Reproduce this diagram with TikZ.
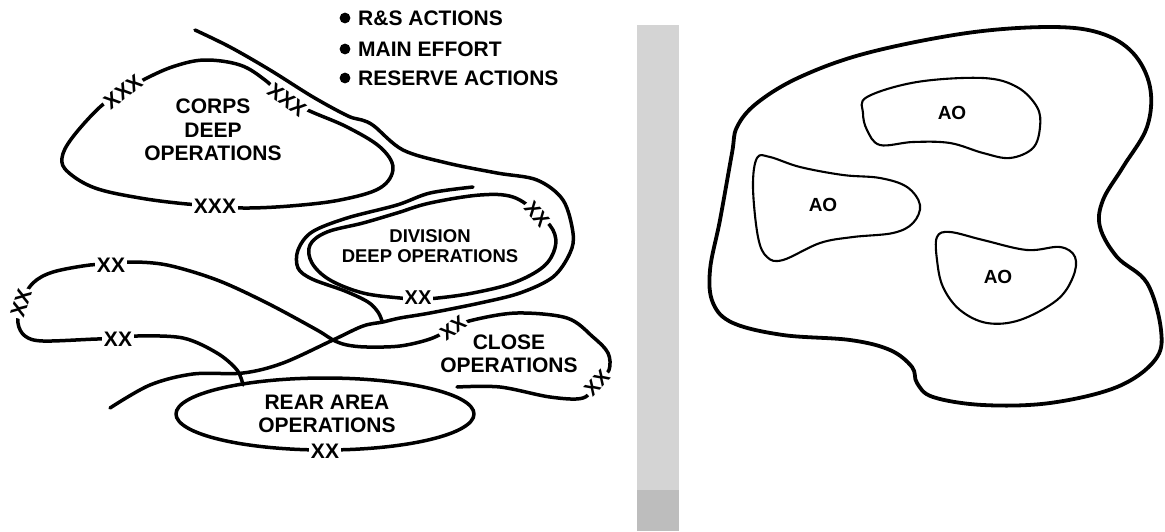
\documentclass[tikz,border=0pt]{standalone}
\usepackage{fontspec}
\setmainfont{Liberation Sans}
\begin{document}
\begin{tikzpicture}[x=1pt,y=-1pt,line join=round,line cap=round,
  ln/.style={line width=3.5pt},
  rim/.style={line width=3.8pt},
  aoline/.style={line width=2.1pt},
  tag/.style={fill=white,inner sep=1.5pt,font=\bfseries\fontsize{21}{24}\selectfont},
  dtag/.style={fill=white,inner sep=1.5pt,font=\bfseries\fontsize{20}{22}\selectfont},
  area/.style={align=center,inner sep=0pt,font=\bfseries\fontsize{21}{23.5}\selectfont},
  darea/.style={align=center,inner sep=0pt,font=\bfseries\fontsize{18.5}{19.5}\selectfont},
  legend/.style={anchor=west,inner sep=0pt,font=\bfseries\fontsize{21}{24}\selectfont},
  aotext/.style={inner sep=0pt,font=\bfseries\fontsize{19}{21}\selectfont}]
\useasboundingbox (0,0) rectangle (1165,531);

% grey divider bar
\fill[black!17] (637,25) rectangle (679,531);
\fill[black!26] (637,490) rectangle (679,531);

% legend
\foreach \yy/\tx/\nm in {18/R\&S ACTIONS/la,49/MAIN EFFORT/lb,78/RESERVE ACTIONS/lc}{
  \fill (345,\yy) circle (5.4);
  \node[legend] (\nm) at (358,\yy) {\tx};
}

% corps deep operations loop
\draw[ln] plot[smooth cycle,tension=0.6] coordinates {
 (62,158) (72,138) (100,107) (123,92) (147,78) (175,66) (205,60) (240,65)
 (265,80) (287,100) (312,112) (347,127) (380,147) (393,168) (380,188)
 (340,200) (290,206) (243,208) (215,205) (187,204) (140,198) (95,188) (68,172)};

% outer line
\draw[ln] plot[smooth,tension=0.55] coordinates {
 (195,30) (230,47) (270,70) (313,97) (348,116) (362,120) (374,126) (403,150)
 (447,163) (497,173) (537,180) (563,200) (573,233) (570,253) (553,277)
 (520,293) (480,303) (430,313) (400,318) (383,322) (363,326) (333,340)
 (283,363) (243,373) (193,374) (150,385) (110,408)};

% division outer line
\draw[ln] plot[smooth,tension=0.55] coordinates {
 (473,187) (430,193) (397,205) (347,218) (312,232) (298,250) (298,268)
 (312,279) (345,291) (368,302) (378,312) (382,321)};

% division inner loop
\draw[ln] plot[smooth cycle,tension=0.6] coordinates {
 (310,245) (327,232) (363,223) (397,213) (430,203) (480,195) (513,197)
 (537,213) (553,230) (555,248) (543,267) (513,283) (473,293) (438,298)
 (418,299) (400,298) (363,293) (330,280) (312,263)};

% long XX line (close operations to rear area)
\draw[ln] plot[smooth,tension=0.55] coordinates {
 (457,387) (500,387) (550,397) (583,398) (597,383) (609,370) (608,353)
 (593,337) (567,318) (517,313) (473,320) (453,328) (430,339) (400,346)
 (367,347) (347,345) (333,340) (317,330) (267,303) (217,280) (167,265)
 (130,262) (111,265) (90,265) (53,272) (33,283) (21,303) (18,323)
 (25,336) (43,341) (97,339) (118,339) (137,336) (183,338) (217,353)
 (237,370) (243,385)};

% rear area ellipse
\draw[ln] (325,414) ellipse [x radius=149,y radius=36];

% area texts
\node[area] (corps) at (213,130) {CORPS\\DEEP\\OPERATIONS};
\node[darea] (div) at (430,246) {DIVISION\\DEEP OPERATIONS};
\node[area] (close) at (509,354) {CLOSE\\OPERATIONS};
\node[area] (rear) at (327,414) {REAR AREA\\OPERATIONS};

% boundary tags
\node[tag,rotate=37] (c1) at (123,92) {XXX};
\node[tag,rotate=-37] (c2) at (287,100) {XXX};
\node[tag] (c3) at (215,206) {XXX};
\node[dtag,rotate=-50] (d1) at (537,214) {XX};
\node[dtag] (d2) at (418,298) {XX};
\node[tag] (x1) at (111,265) {XX};
\node[tag,rotate=72] (x2) at (21,303) {XX};
\node[tag] (x3) at (118,339) {XX};
\node[dtag,rotate=35] (x4) at (453,328) {XX};
\node[dtag,rotate=46] (x5) at (597,383) {XX};
\node[tag] (x6) at (325,451) {XX};

% right panel
\draw[rim] plot[smooth cycle,tension=0.6] coordinates {
 (1050,27) (967,33) (867,53) (800,77) (757,103) (737,127) (732,153)
 (720,220) (710,270) (713,303) (733,323) (783,335) (850,340) (890,350)
 (912,367) (917,383) (933,397) (983,405) (1050,403) (1117,387) (1155,360)
 (1161,330) (1147,283) (1117,257) (1100,227) (1103,200) (1123,167)
 (1147,127) (1150,87) (1133,53) (1100,33)};

\draw[aoline] plot[smooth cycle,tension=0.6] coordinates {
 (867,97) (917,82) (983,78) (1017,87) (1037,107) (1040,127) (1033,148)
 (1010,158) (983,153) (950,143) (913,142) (880,145) (867,130) (863,113)};
\draw[aoline] plot[smooth cycle,tension=0.6] coordinates {
 (757,158) (770,157) (800,167) (843,175) (880,178) (907,187) (920,205)
 (913,223) (893,233) (853,237) (820,243) (783,260) (767,257) (758,237) (753,187)};
\draw[aoline] plot[smooth cycle,tension=0.6] coordinates {
 (937,237) (950,232) (983,240) (1027,250) (1060,247) (1075,257) (1073,277)
 (1057,300) (1020,320) (987,323) (960,310) (943,287) (937,260)};

\node[aotext] (ao1) at (952,113) {AO};
\node[aotext] (ao2) at (823,205) {AO};
\node[aotext] (ao3) at (998,277) {AO};
\end{tikzpicture}
\end{document}
